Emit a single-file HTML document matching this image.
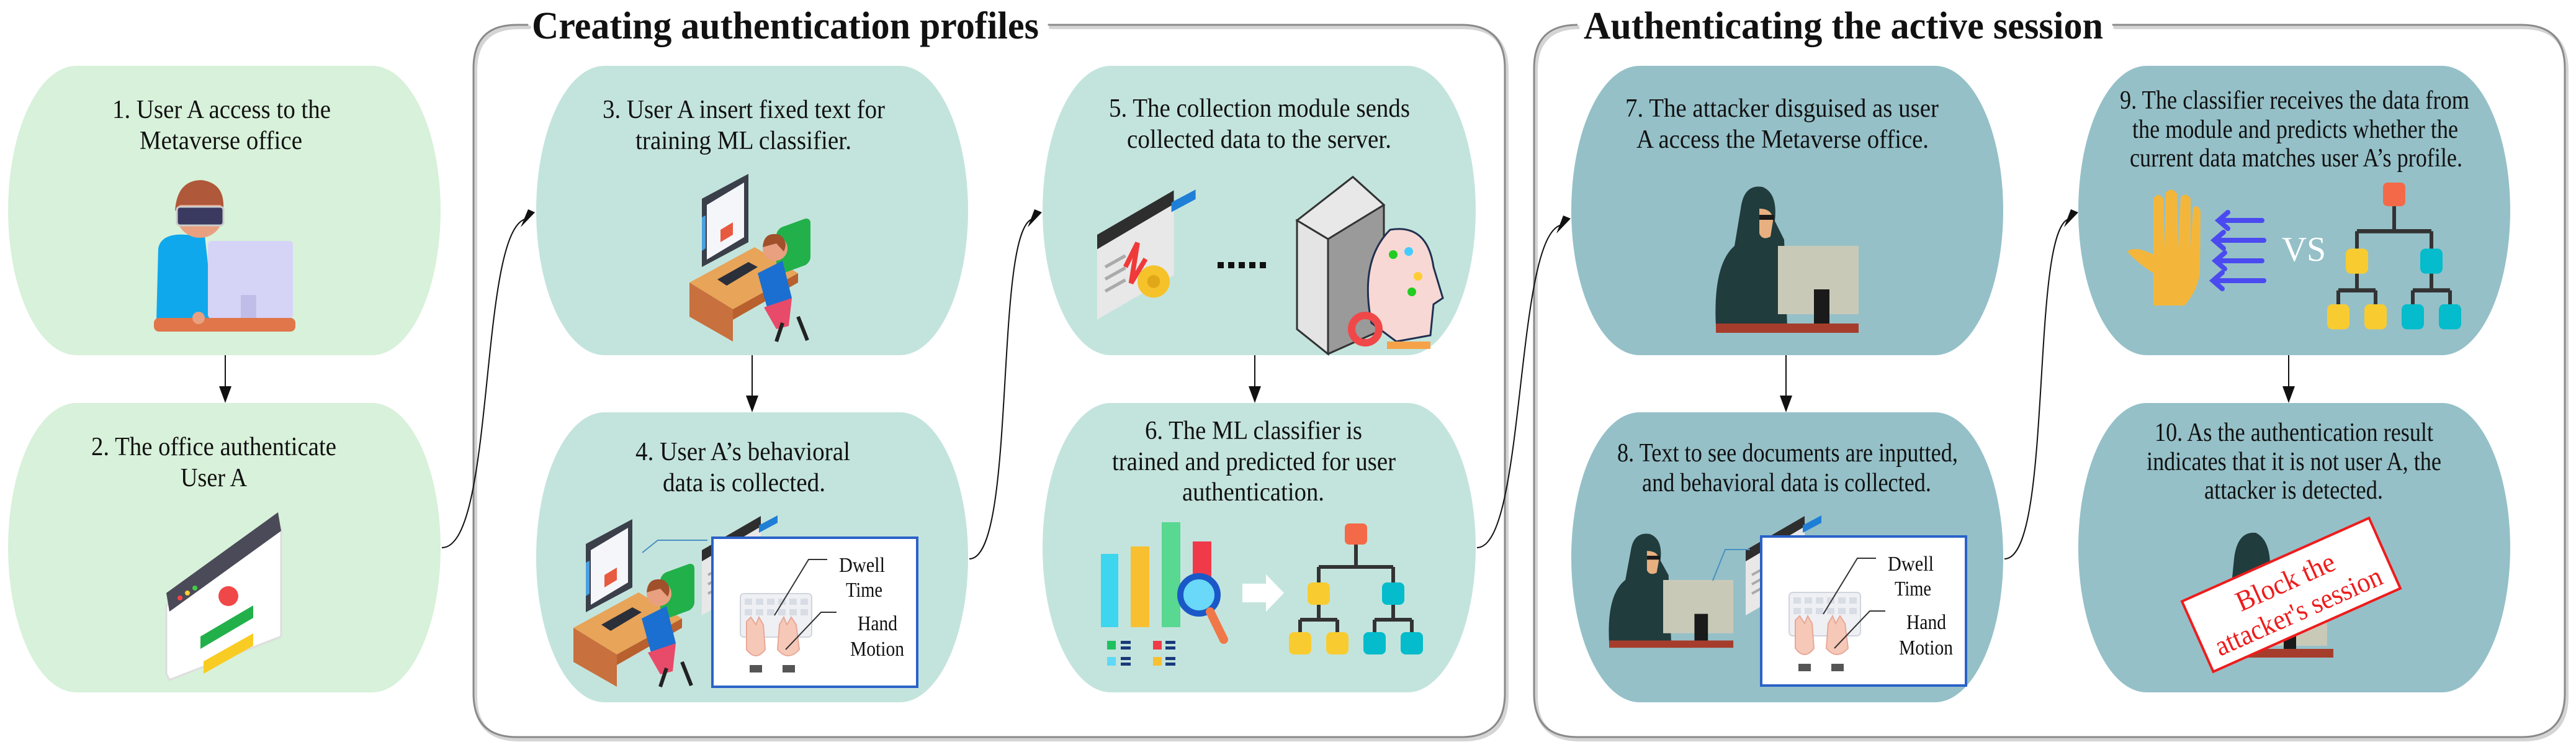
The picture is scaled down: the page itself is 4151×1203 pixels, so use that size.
<!DOCTYPE html>
<html><head><meta charset="utf-8"><style>
html,body{margin:0;padding:0;background:#fff;}
svg{display:block}
text{font-family:"Liberation Serif",serif;fill:#111}
</style></head><body>
<svg width="4151" height="1203" viewBox="0 0 4151 1203" xmlns="http://www.w3.org/2000/svg" font-family="Liberation Serif, serif">
<defs>
<g id="desk">
 <polygon points="20,40 95,0 95,110 20,150" fill="#3a3f4a"/>
 <polygon points="28,50 88,14 88,102 28,138" fill="#f4f6fa"/>
 <polygon points="50,90 70,78 70,98 50,110" fill="#e85a40"/>
 <polygon points="20,70 26,67 26,120 20,124" fill="#4aa0e0"/>
 <polygon points="0,175 105,118 175,160 70,218" fill="#e8a458"/>
 <polygon points="0,175 70,218 70,270 0,230" fill="#c8703e"/>
 <polygon points="70,218 175,160 175,175 70,235" fill="#b8602e"/>
 <polygon points="45,170 95,142 110,150 60,180" fill="#2a2f3a"/>
 <rect x="140" y="140" width="55" height="75" rx="10" fill="#22b04a" transform="skewY(-20)"/>
 <path d="M110,160 L150,140 L165,200 L125,215 Z" fill="#1a6fd0"/>
 <path d="M120,215 L165,200 L160,245 L140,250 Z" fill="#e84a6a"/>
 <circle cx="138" cy="120" r="20" fill="#e8a080"/>
 <path d="M118,118 Q120,92 145,98 Q160,108 152,125 L140,112 Z" fill="#a0502a"/>
 <path d="M150,240 L140,270 M175,230 L190,268" stroke="#222" stroke-width="6" fill="none"/>
</g>
<g id="brow">
 <polygon points="0,60 95,5 95,110 0,165" fill="#e8e8e8"/>
 <polygon points="0,60 95,5 95,22 0,78" fill="#2e2e2e"/>
 <polygon points="92,20 122,4 122,16 92,32" fill="#1f7fd6"/>
 <path d="M35,100 L50,70 L42,120 L60,90" stroke="#f03a3a" stroke-width="6" fill="none"/>
 <circle cx="70" cy="118" r="20" fill="#f6c22a"/>
 <circle cx="70" cy="118" r="8" fill="#e0a818"/>
 <path d="M10,100 L35,86 M10,115 L35,101 M10,130 L35,116" stroke="#aaa" stroke-width="4"/>
</g>
<g id="hack">
 <path d="M40,40 Q45,0 75,5 Q100,15 95,60 L110,90 L115,230 L0,230 Q-5,130 30,100 Z" fill="#213c3c"/>
 <path d="M70,40 Q92,40 92,60 L88,85 Q75,92 70,80 Z" fill="#e8b080"/>
 <rect x="70" y="50" width="24" height="8" fill="#1a1a1a"/>
 <rect x="100" y="100" width="130" height="110" fill="#c9c9b8"/>
 <rect x="158" y="170" width="25" height="55" fill="#1a1a1a"/>
 <rect x="0" y="225" width="230" height="15" fill="#a63d2c"/>
</g>
<g id="kb">
 <rect x="0" y="0" width="330" height="240" fill="#fff" stroke="#2a62c8" stroke-width="4"/>
 <rect x="45" y="90" width="115" height="70" rx="6" fill="#eef0f4" stroke="#d0d4dc" stroke-width="2"/>
 <g fill="#d8dce4"><rect x="52" y="98" width="12" height="10"/><rect x="70" y="98" width="12" height="10"/><rect x="88" y="98" width="12" height="10"/><rect x="106" y="98" width="12" height="10"/><rect x="124" y="98" width="12" height="10"/><rect x="142" y="98" width="12" height="10"/>
 <rect x="52" y="115" width="12" height="10"/><rect x="70" y="115" width="12" height="10"/><rect x="88" y="115" width="12" height="10"/><rect x="106" y="115" width="12" height="10"/><rect x="124" y="115" width="12" height="10"/><rect x="142" y="115" width="12" height="10"/></g>
 <path d="M55,180 L55,135 L62,128 L70,140 L75,128 L82,140 L85,180 Q70,200 55,180Z" fill="#f6c8b8" stroke="#e8a898" stroke-width="2"/>
 <path d="M105,180 L108,140 L115,128 L120,140 L127,128 L135,140 L140,180 Q122,200 105,180Z" fill="#f6c8b8" stroke="#e8a898" stroke-width="2"/>
 <rect x="60" y="205" width="20" height="12" fill="#555"/><rect x="113" y="205" width="20" height="12" fill="#555"/>
 <path d="M100,125 L155,35 L185,35 M118,180 L175,120 L200,120" stroke="#333" stroke-width="2" fill="none"/>
 <text x="204" y="55" font-size="34" textLength="74" lengthAdjust="spacingAndGlyphs">Dwell</text>
 <text x="215" y="95" font-size="34" textLength="59" lengthAdjust="spacingAndGlyphs">Time</text>
 <text x="234" y="149" font-size="34" textLength="64" lengthAdjust="spacingAndGlyphs">Hand</text>
 <text x="222" y="190" font-size="34" textLength="87" lengthAdjust="spacingAndGlyphs">Motion</text>
</g>
<g id="tree">
 <rect x="90" y="0" width="36" height="34" rx="7" fill="#f46a48"/>
 <path d="M108,34 V70 M48,70 H168 M48,70 V95 M168,70 V95 M48,130 V155 M18,155 H78 M18,155 V175 M78,155 V175 M168,130 V155 M138,155 H198 M138,155 V175 M198,155 V175" stroke="#333" stroke-width="6" fill="none"/>
 <rect x="30" y="95" width="36" height="36" rx="8" fill="#f8cc30"/>
 <rect x="150" y="95" width="36" height="36" rx="8" fill="#04bccb"/>
 <rect x="0" y="175" width="36" height="36" rx="8" fill="#f8cc30"/>
 <rect x="60" y="175" width="36" height="36" rx="8" fill="#f8cc30"/>
 <rect x="120" y="175" width="36" height="36" rx="8" fill="#04bccb"/>
 <rect x="180" y="175" width="36" height="36" rx="8" fill="#04bccb"/>
</g>
</defs>

<g fill="none" stroke-linecap="round">
 <path d="M850,40 H833 Q763,40 763,110 V1117 Q763,1187 833,1187 H2355 Q2425,1187 2425,1117 V110 Q2425,40 2355,40 H1690" stroke="#d4d4d4" stroke-width="6" transform="translate(3,4)"/>
 <path d="M850,40 H833 Q763,40 763,110 V1117 Q763,1187 833,1187 H2355 Q2425,1187 2425,1117 V110 Q2425,40 2355,40 H1690" stroke="#8a8a8a" stroke-width="3"/>
 <path d="M2540,40 H2542 Q2472,40 2472,110 V1117 Q2472,1187 2542,1187 H4063 Q4133,1187 4133,1117 V110 Q4133,40 4063,40 H3405" stroke="#d4d4d4" stroke-width="6" transform="translate(3,4)"/>
 <path d="M2540,40 H2542 Q2472,40 2472,110 V1117 Q2472,1187 2542,1187 H4063 Q4133,1187 4133,1117 V110 Q4133,40 4063,40 H3405" stroke="#8a8a8a" stroke-width="3"/>
</g>
<text x="857" y="62" font-size="62" font-weight="bold" textLength="817" lengthAdjust="spacingAndGlyphs">Creating authentication profiles</text>
<text x="2552" y="62" font-size="62" font-weight="bold" textLength="837" lengthAdjust="spacingAndGlyphs">Authenticating the active session</text>

<rect x="13" y="106" width="697" height="466" rx="110" ry="233" fill="#d8f1da"/>
<rect x="13" y="649" width="697" height="466" rx="110" ry="233" fill="#d8f1da"/>
<rect x="864" y="106" width="696" height="466" rx="110" ry="233" fill="#c3e4dd"/>
<rect x="864" y="664" width="696" height="467" rx="110" ry="233" fill="#c3e4dd"/>
<rect x="1680" y="106" width="698" height="466" rx="110" ry="233" fill="#c3e4dd"/>
<rect x="1680" y="649" width="698" height="466" rx="110" ry="233" fill="#c3e4dd"/>
<rect x="2532" y="106" width="696" height="466" rx="110" ry="233" fill="#95c0c8"/>
<rect x="2532" y="664" width="696" height="467" rx="110" ry="233" fill="#95c0c8"/>
<rect x="3349" y="106" width="696" height="466" rx="110" ry="233" fill="#95c0c8"/>
<rect x="3349" y="649" width="696" height="466" rx="110" ry="233" fill="#95c0c8"/>

<g stroke="#111" stroke-width="2" fill="none">
 <path d="M363,572 V625"/><path d="M1212,572 V640"/><path d="M2022,572 V625"/><path d="M2878,572 V640"/><path d="M3688,572 V625"/>
 <path d="M712,882 C800,882 770,360 850,352"/>
 <path d="M1562,900 C1640,900 1600,360 1666,352"/>
 <path d="M2380,882 C2460,882 2440,370 2518,362"/>
 <path d="M3230,900 C3310,900 3270,360 3336,352"/>
</g>
<g fill="#111">
 <polygon points="353,622 373,622 363,649"/>
 <polygon points="1202,637 1222,637 1212,664"/>
 <polygon points="2012,622 2032,622 2022,649"/>
 <polygon points="2868,637 2888,637 2878,664"/>
 <polygon points="3678,622 3698,622 3688,649"/>
 <polygon points="839,366 851,337 862,342"/>
 <polygon points="1656,366 1667,337 1679,342"/>
 <polygon points="2508,376 2519,347 2531,352"/>
 <polygon points="3326,366 3337,337 3349,342"/>
</g>

<g font-size="42">
 <text x="181" y="190" textLength="352" lengthAdjust="spacingAndGlyphs">1. User A access to the</text>
 <text x="225" y="240" textLength="262" lengthAdjust="spacingAndGlyphs">Metaverse office</text>
 <text x="147" y="733" textLength="395" lengthAdjust="spacingAndGlyphs">2. The office authenticate</text>
 <text x="291" y="783" textLength="107" lengthAdjust="spacingAndGlyphs">User A</text>
 <text x="971" y="190" textLength="455" lengthAdjust="spacingAndGlyphs">3. User A insert fixed text for</text>
 <text x="1024" y="240" textLength="348" lengthAdjust="spacingAndGlyphs">training ML classifier.</text>
 <text x="1024" y="741" textLength="346" lengthAdjust="spacingAndGlyphs">4. User A’s behavioral</text>
 <text x="1068" y="791" textLength="262" lengthAdjust="spacingAndGlyphs">data is collected.</text>
 <text x="1787" y="188" textLength="485" lengthAdjust="spacingAndGlyphs">5. The collection module sends</text>
 <text x="1816" y="238" textLength="426" lengthAdjust="spacingAndGlyphs">collected data to the server.</text>
 <text x="1845" y="707" textLength="350" lengthAdjust="spacingAndGlyphs">6. The ML classifier is</text>
 <text x="1792" y="757" textLength="457" lengthAdjust="spacingAndGlyphs">trained and predicted for user</text>
 <text x="1905" y="806" textLength="229" lengthAdjust="spacingAndGlyphs">authentication.</text>
 <text x="2619" y="188" textLength="505" lengthAdjust="spacingAndGlyphs">7. The attacker disguised as user</text>
 <text x="2637" y="238" textLength="471" lengthAdjust="spacingAndGlyphs">A access the Metaverse office.</text>
 <text x="2606" y="743" textLength="549" lengthAdjust="spacingAndGlyphs">8. Text to see documents are inputted,</text>
 <text x="2646" y="791" textLength="466" lengthAdjust="spacingAndGlyphs">and behavioral data is collected.</text>
 <text x="3416" y="175" textLength="563" lengthAdjust="spacingAndGlyphs">9. The classifier receives the data from</text>
 <text x="3436" y="222" textLength="525" lengthAdjust="spacingAndGlyphs">the module and predicts whether the</text>
 <text x="3432" y="268" textLength="536" lengthAdjust="spacingAndGlyphs">current data matches user A’s profile.</text>
 <text x="3472" y="710" textLength="449" lengthAdjust="spacingAndGlyphs">10. As the authentication result</text>
 <text x="3459" y="757" textLength="475" lengthAdjust="spacingAndGlyphs">indicates that it is not user A, the</text>
 <text x="3552" y="803" textLength="288" lengthAdjust="spacingAndGlyphs">attacker is detected.</text>
</g>

<g>
 <path d="M255,400 Q260,375 300,378 L330,380 L345,515 L252,515 Z" fill="#10a8ec"/>
 <circle cx="322" cy="345" r="38" fill="#e8a080"/>
 <path d="M282,340 Q285,290 325,290 Q362,295 360,335 L355,330 L290,330 Z" fill="#b0583a"/>
 <rect x="285" y="333" width="75" height="30" rx="5" fill="#3a3a60" stroke="#ccc" stroke-width="3"/>
 <rect x="335" y="388" width="137" height="125" rx="6" fill="#d6d4f6"/>
 <rect x="388" y="475" width="25" height="40" fill="#c0bee8"/>
 <rect x="248" y="512" width="228" height="22" rx="8" fill="#e0764a"/>
 <circle cx="320" cy="512" r="10" fill="#e8a080"/>
</g>
<g transform="translate(268,825)">
 <polygon points="0,150 180,20 185,25 185,200 5,270 0,260" fill="#fff" stroke="#ddd" stroke-width="3"/>
 <polygon points="0,130 180,0 185,30 5,160" fill="#4a4a58"/>
 <circle cx="22" cy="138" r="4" fill="#f44"/><circle cx="34" cy="130" r="4" fill="#fc3"/><circle cx="46" cy="122" r="4" fill="#4c4"/>
 <circle cx="100" cy="135" r="16" fill="#f04848"/>
 <polygon points="55,200 140,150 140,170 55,220" fill="#22b04a"/>
 <polygon points="60,240 140,195 140,215 60,260" fill="#f8cc22"/>
</g>
<use href="#desk" x="1111" y="280"/>
<use href="#desk" x="924" y="836"/>
<use href="#brow" x="1131" y="826"/>
<path d="M1035,890 L1060,870 L1140,870" stroke="#4a90c0" stroke-width="2" fill="none"/>
<use href="#kb" x="1148" y="866"/>
<g transform="translate(1768,300) scale(1.3)"><use href="#brow"/></g>
<g fill="#111"><rect x="1962" y="422" width="10" height="10"/><rect x="1979" y="422" width="10" height="10"/><rect x="1996" y="422" width="10" height="10"/><rect x="2013" y="422" width="10" height="10"/><rect x="2030" y="422" width="10" height="10"/></g>
<g>
 <polygon points="2090,355 2180,285 2230,330 2230,530 2140,570 2090,530" fill="#9a9a9a" stroke="#333" stroke-width="3"/>
 <polygon points="2090,355 2180,285 2230,330 2140,385" fill="#e8e8e8" stroke="#333" stroke-width="3"/>
 <polygon points="2090,355 2140,385 2140,570 2090,530" fill="#e4e4e4" stroke="#333" stroke-width="3"/>
 <path d="M2240,370 Q2300,360 2310,430 L2325,480 L2310,490 L2305,540 L2250,550 L2210,520 Q2190,420 2240,370Z" fill="#f8d8d4" stroke="#1f3050" stroke-width="3"/>
 <rect x="2235" y="550" width="70" height="12" fill="#f6a24a"/>
 <circle cx="2200" cy="530" r="22" fill="none" stroke="#f04848" stroke-width="12"/>
 <circle cx="2245" cy="410" r="7" fill="#2c2"/><circle cx="2270" cy="405" r="7" fill="#4cf"/><circle cx="2285" cy="445" r="7" fill="#fc3"/><circle cx="2275" cy="470" r="7" fill="#2c2"/>
</g>
<g>
 <rect x="1774" y="892" width="28" height="118" fill="#3ed6ee"/>
 <rect x="1822" y="880" width="30" height="130" fill="#f8c030"/>
 <rect x="1872" y="841" width="30" height="169" fill="#58d890"/>
 <rect x="1922" y="872" width="30" height="110" fill="#f03a4a"/>
 <circle cx="1932" cy="958" r="30" fill="#6ad8f8" stroke="#1a58c8" stroke-width="10"/>
 <path d="M1950,985 L1972,1030" stroke="#f07848" stroke-width="14" stroke-linecap="round"/>
 <rect x="1784" y="1032" width="14" height="14" fill="#20c060"/>
 <rect x="1806" y="1032" width="16" height="5" fill="#1a3a7a"/><rect x="1806" y="1041" width="16" height="5" fill="#1a3a7a"/>
 <rect x="1858" y="1032" width="14" height="14" fill="#f03a4a"/><rect x="1878" y="1032" width="16" height="5" fill="#1a3a7a"/><rect x="1878" y="1041" width="16" height="5" fill="#1a3a7a"/>
 <rect x="1784" y="1058" width="14" height="14" fill="#60d8f8"/><rect x="1806" y="1058" width="16" height="5" fill="#1a3a7a"/><rect x="1806" y="1067" width="16" height="5" fill="#1a3a7a"/>
 <rect x="1858" y="1058" width="14" height="14" fill="#f8c030"/><rect x="1878" y="1058" width="16" height="5" fill="#1a3a7a"/><rect x="1878" y="1067" width="16" height="5" fill="#1a3a7a"/>
 <polygon points="2002,940 2040,940 2040,925 2069,955 2040,985 2040,970 2002,970" fill="#fff"/>
 <g transform="translate(2077,843)"><use href="#tree"/></g>
</g>
<use href="#hack" x="2765" y="296"/>
<g transform="translate(2593,856) scale(0.87,0.78)"><use href="#hack"/></g>
<use href="#brow" x="2813" y="826"/>
<path d="M2760,935 L2780,885 L2820,885" stroke="#4a90c0" stroke-width="2" fill="none"/>
<use href="#kb" x="2838" y="864"/>
<g>
 <path d="M3470,492 L3470,440 Q3440,420 3428,405 Q3440,395 3470,410 L3470,320 Q3478,308 3486,320 L3488,400 L3490,310 Q3500,300 3508,312 L3510,400 L3514,318 Q3522,308 3530,320 L3530,402 L3534,335 Q3542,328 3546,340 L3545,440 Q3540,470 3520,492 Z" fill="#f4b63a"/>
 <g stroke="#4a4af0" stroke-width="8" fill="none" stroke-linecap="round">
  <path d="M3575,355 H3645 M3590,342 L3575,355 L3590,368"/>
  <path d="M3568,387 H3648 M3583,374 L3568,387 L3583,400"/>
  <path d="M3570,420 H3645 M3585,407 L3570,420 L3585,433"/>
  <path d="M3566,452 H3648 M3581,439 L3566,452 L3581,465"/>
 </g>
 <text x="3677" y="420" font-size="56" style="fill:#fff" textLength="71" lengthAdjust="spacingAndGlyphs">VS</text>
 <g transform="translate(3750,294) scale(1,1.12)"><use href="#tree"/></g>
</g>
<g>
 <path d="M3600,900 Q3605,855 3635,858 Q3660,870 3658,920 L3660,1000 L3590,1000 Z" fill="#213c3c"/>
 <rect x="3660" y="960" width="90" height="80" fill="#c9c9b8"/>
 <rect x="3680" y="1000" width="20" height="50" fill="#1a1a1a"/>
 <rect x="3605" y="1045" width="155" height="14" fill="#a63d2c"/>
 <g transform="translate(3692,958) rotate(-24)">
  <rect x="-165" y="-62" width="330" height="124" fill="#fff" stroke="#ee1c1c" stroke-width="4"/>
  <text x="0" y="-8" font-size="46" text-anchor="middle" style="fill:#ee1c1c" textLength="170" lengthAdjust="spacingAndGlyphs">Block the</text>
  <text x="0" y="44" font-size="46" text-anchor="middle" style="fill:#ee1c1c" textLength="290" lengthAdjust="spacingAndGlyphs">attacker's session</text>
 </g>
</g>
</svg>
</body></html>
